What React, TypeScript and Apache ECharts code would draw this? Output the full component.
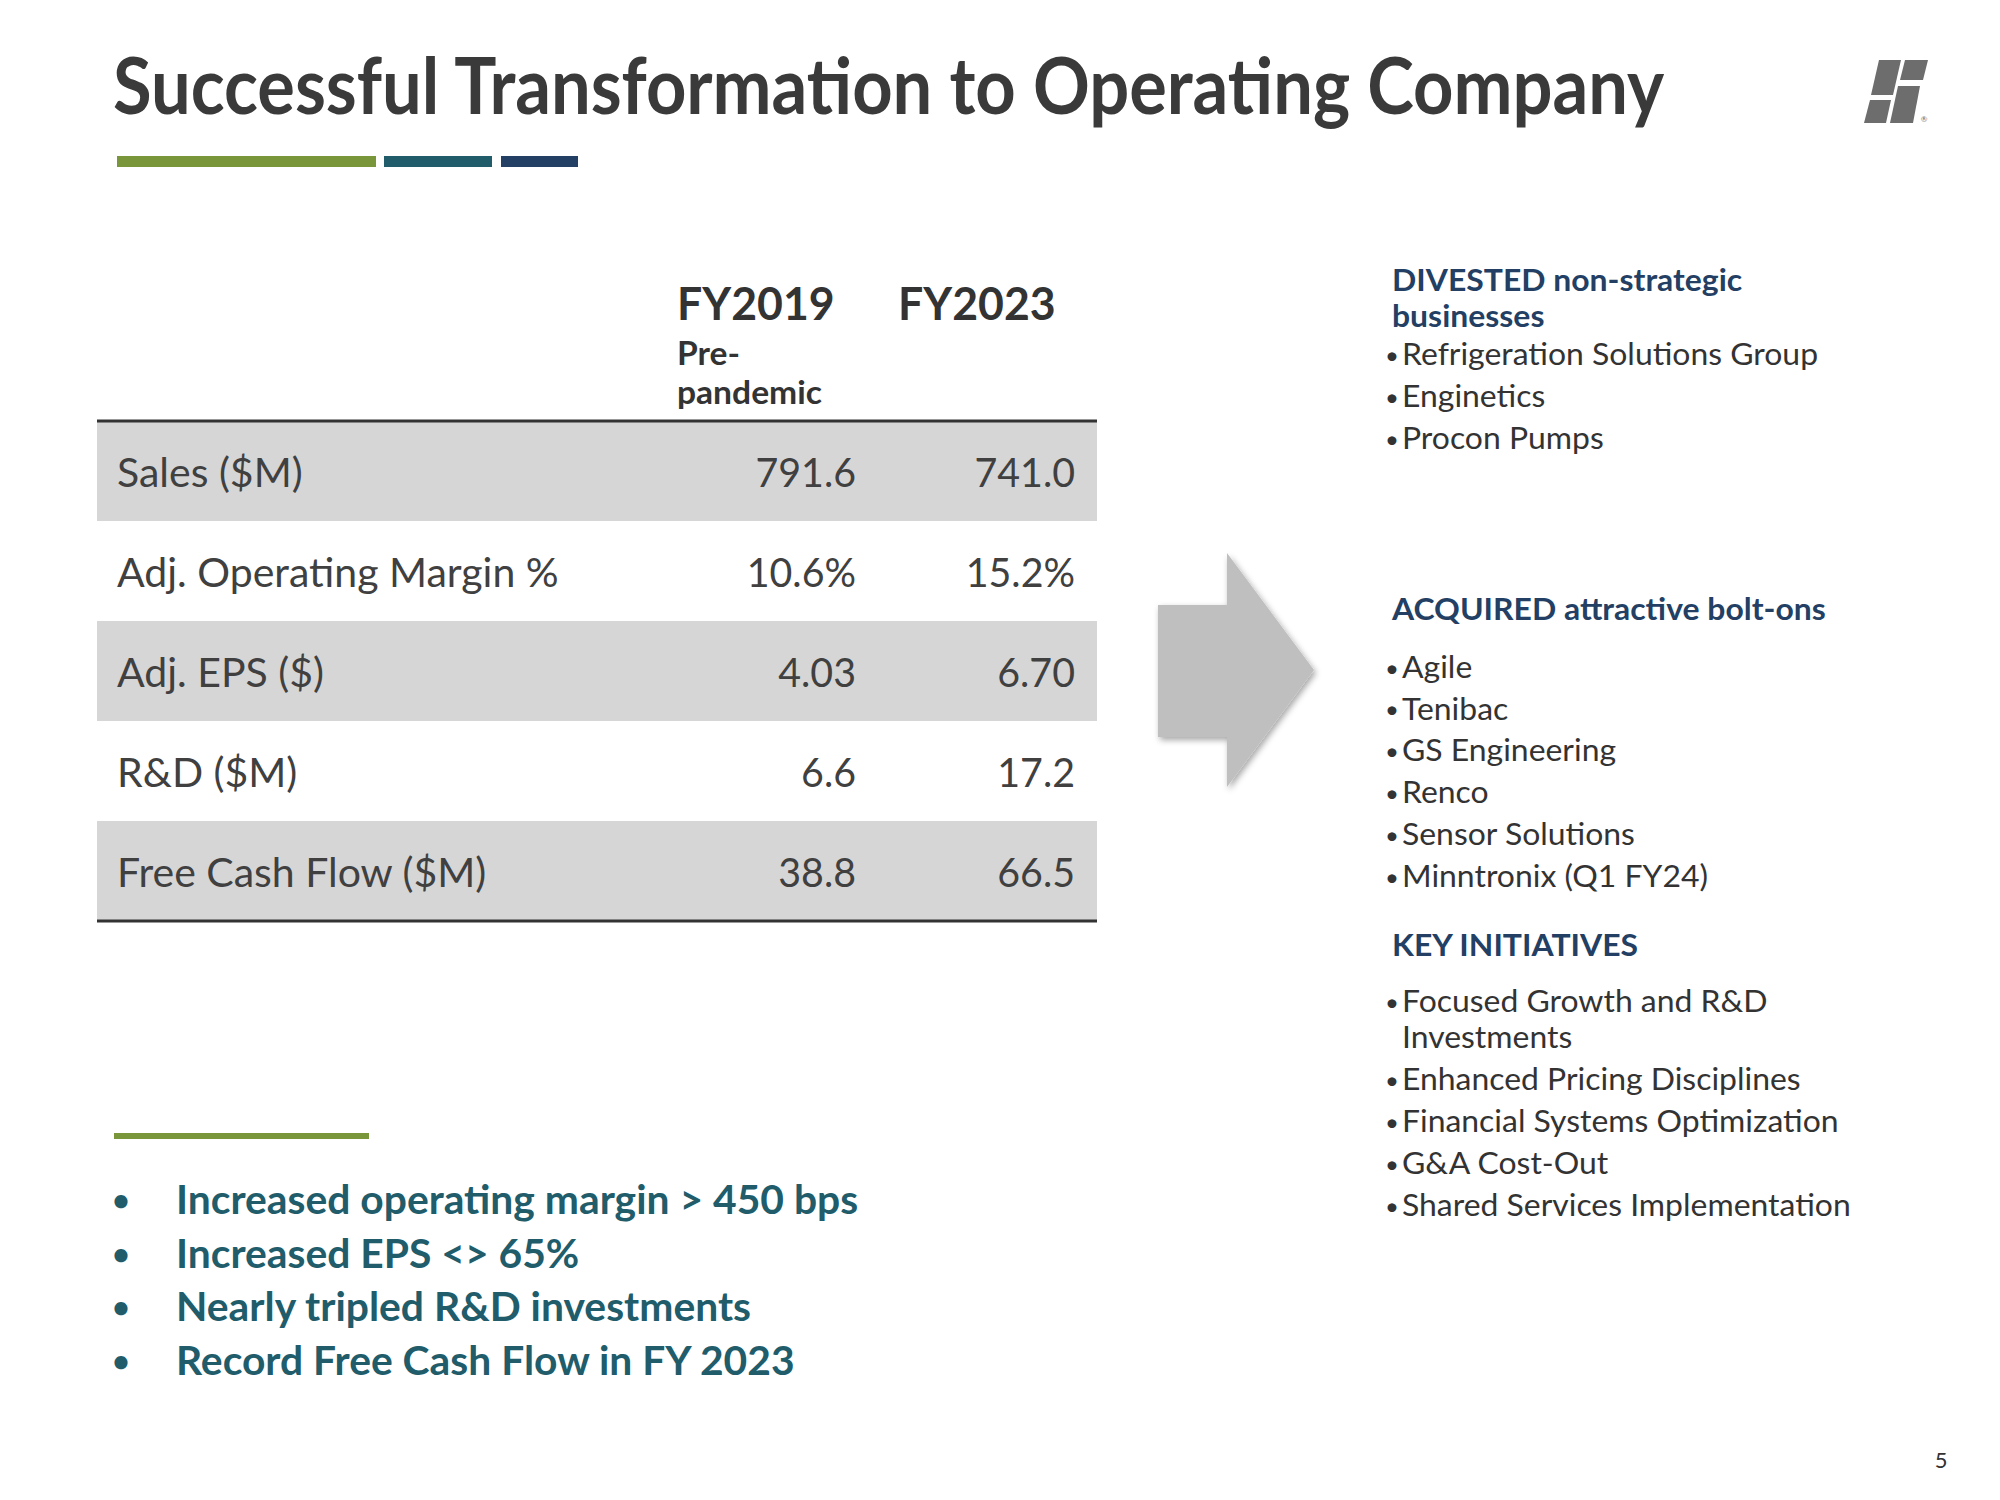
import React, { useEffect, useRef } from "react";
import * as echarts from "echarts";

const TITLE = "Successful Transformation to Operating Company";
const COLUMN_HEADERS = ["FY2019", "FY2023"];
const COLUMN_SUBHEADER = ["Pre-", "pandemic"];
const ROW_LABELS = ["Sales ($M)", "Adj. Operating Margin %", "Adj. EPS ($)", "R&D ($M)", "Free Cash Flow ($M)"];
const FY2019_VALUES = ["791.6", "10.6%", "4.03", "6.6", "38.8"];
const FY2023_VALUES = ["741.0", "15.2%", "6.70", "17.2", "66.5"];
const DIVESTED_HEAD = ["DIVESTED non-strategic", "businesses"];
const DIVESTED = ["Refrigeration Solutions Group", "Enginetics", "Procon Pumps"];
const ACQUIRED_HEAD = "ACQUIRED attractive bolt-ons";
const ACQUIRED = ["Agile", "Tenibac", "GS Engineering", "Renco", "Sensor Solutions", "Minntronix (Q1 FY24)"];
const INITIATIVES_HEAD = "KEY INITIATIVES";
const INITIATIVES = [["Focused Growth and R&D", "Investments"], ["Enhanced Pricing Disciplines"], ["Financial Systems Optimization"], ["G&A Cost-Out"], ["Shared Services Implementation"]];
const HIGHLIGHTS = ["Increased operating margin > 450 bps", "Increased EPS <> 65%", "Nearly tripled R&D investments", "Record Free Cash Flow in FY 2023"];
const PAGE = "5";

const FONT = "Lato";
const DARK = "#3a3a3a";
const NAVY = "#243f64";
const TEAL = "#215c6b";
const GREEN = "#7a963a";

function txt(text: string, x: number, y: number, size: number, opts: any = {}) {
  return {
    type: "text",
    x,
    y,
    silent: true,
    scaleX: opts.scaleX ?? 1,
    style: {
      text,
      fontSize: size,
      fontFamily: FONT,
      fontWeight: opts.weight ?? "normal",
      fill: opts.color ?? DARK,
      textAlign: opts.align ?? "left",
      textVerticalAlign: "middle",
    },
  };
}

export default function App() {
  const ref = useRef<HTMLDivElement>(null);
  useEffect(() => {
    document.body.style.margin = "0";
    const chart = echarts.init(ref.current!, undefined, { renderer: "svg" });
    const g: any[] = [];
    // title
    g.push(txt(TITLE, 113, 84, 78, { weight: "bold", scaleX: 0.903 }));
    g.push({ type: "rect", shape: { x: 117, y: 156, width: 259, height: 11 }, style: { fill: GREEN } });
    g.push({ type: "rect", shape: { x: 384, y: 156, width: 108, height: 11 }, style: { fill: TEAL } });
    g.push({ type: "rect", shape: { x: 501, y: 156, width: 77, height: 11 }, style: { fill: NAVY } });
    // logo
    const logo = "#6d6d6d";
    const polys = [
      [[1879, 60], [1901, 60], [1893, 95], [1871, 95]],
      [[1905, 60], [1928, 60], [1923, 80], [1900, 80]],
      [[1870, 100], [1891, 100], [1886, 123], [1864, 123]],
      [[1898, 86], [1920, 86], [1913, 123], [1890, 123]],
    ];
    polys.forEach((p) => g.push({ type: "polygon", shape: { points: p }, style: { fill: logo } }));
    g.push({ type: "text", x: 1924, y: 119, style: { text: "®", fontSize: 8, fontFamily: FONT, fill: logo, textAlign: "center", textVerticalAlign: "middle" } });

    // table header
    const colX = [677, 898];
    COLUMN_HEADERS.forEach((h, i) => g.push(txt(h, colX[i], 302, 46, { weight: "bold", color: "#333", scaleX: 0.97 })));
    g.push(txt(COLUMN_SUBHEADER[0], 677, 353, 32, { weight: "bold", color: "#333", scaleX: 1.05 }));
    g.push(txt(COLUMN_SUBHEADER[1], 677, 392, 32, { weight: "bold", color: "#333", scaleX: 1.05 }));
    // rows
    const top = 421;
    const rowH = 100;
    const valRight = [856, 1075];
    ROW_LABELS.forEach((label, i) => {
      const y0 = top + i * rowH;
      if (i % 2 === 0) {
        g.push({ type: "rect", shape: { x: 97, y: y0, width: 1000, height: rowH }, style: { fill: "#d6d6d6" } });
      }
      const cy = y0 + rowH / 2;
      g.push(txt(label, 117, cy, 41, { color: "#404040", scaleX: 1.0 }));
      g.push(txt(FY2019_VALUES[i], valRight[0], cy, 41, { color: "#404040", align: "right", scaleX: 0.96 }));
      g.push(txt(FY2023_VALUES[i], valRight[1], cy, 41, { color: "#404040", align: "right", scaleX: 0.96 }));
    });
    g.push({ type: "line", shape: { x1: 97, y1: top, x2: 1097, y2: top }, style: { stroke: "#333", lineWidth: 3 } });
    const bottom = top + ROW_LABELS.length * rowH;
    g.push({ type: "line", shape: { x1: 97, y1: bottom, x2: 1097, y2: bottom }, style: { stroke: "#333", lineWidth: 3 } });

    // arrow
    g.push({
      type: "polygon",
      shape: { points: [[1158, 605], [1227, 605], [1227, 553], [1314, 670], [1227, 787], [1227, 737], [1158, 737]] },
      style: { fill: "#bfbfbf", shadowBlur: 6, shadowOffsetX: 2, shadowOffsetY: 3, shadowColor: "rgba(0,0,0,0.35)" },
    });

    // right column
    const hx = 1392;
    const bx = 1392;
    const tx = 1402;
    const rs = 31;
    const sx = 1.03;
    g.push(txt(DIVESTED_HEAD[0], hx, 279, rs, { weight: "bold", color: NAVY, scaleX: sx }));
    g.push(txt(DIVESTED_HEAD[1], hx, 315, rs, { weight: "bold", color: NAVY, scaleX: sx }));
    const bullet = (s: string, y: number) => {
      g.push(txt("•", bx, y + 1, 24, { color: "#333", align: "center" }));
      g.push(txt(s, tx, y, rs, { color: "#333", scaleX: sx }));
    };
    DIVESTED.forEach((s, i) => bullet(s, 353 + i * 42));
    g.push(txt(ACQUIRED_HEAD, hx, 608, rs, { weight: "bold", color: NAVY, scaleX: sx }));
    ACQUIRED.forEach((s, i) => bullet(s, 666 + i * 41.8));
    g.push(txt(INITIATIVES_HEAD, hx, 944, rs, { weight: "bold", color: NAVY, scaleX: sx }));
    let y = 1000;
    INITIATIVES.forEach((lines) => {
      bullet(lines[0], y);
      for (let k = 1; k < lines.length; k++) {
        y += 36;
        g.push(txt(lines[k], tx, y, rs, { color: "#333", scaleX: sx }));
      }
      y += 42;
    });

    // highlights
    g.push({ type: "rect", shape: { x: 114, y: 1133, width: 255, height: 6 }, style: { fill: GREEN } });
    HIGHLIGHTS.forEach((s, i) => {
      const yy = 1199 + i * 53.5;
      g.push(txt("•", 121, yy, 30, { weight: "bold", color: TEAL, align: "center" }));
      g.push(txt(s, 176, yy, 40, { weight: "bold", color: TEAL, scaleX: 1.02 }));
    });

    g.push(txt(PAGE, 1941, 1459, 22, { color: "#333", align: "center" }));

    chart.setOption({ animation: false, graphic: { elements: g } });
    return () => chart.dispose();
  }, []);
  return <div ref={ref} style={{ width: 2000, height: 1500, background: "#fff" }} />;
}
